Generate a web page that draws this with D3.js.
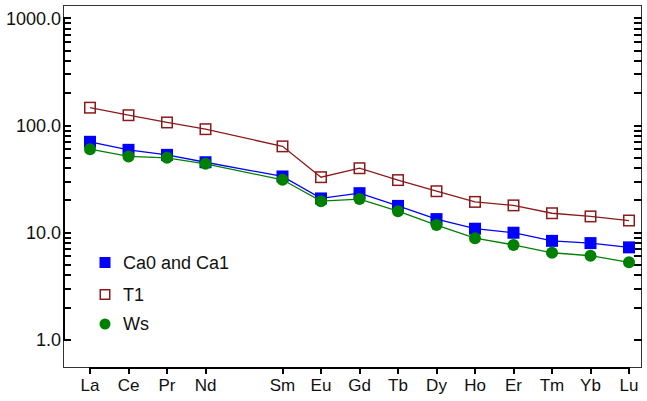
<!DOCTYPE html>
<html><head><meta charset="utf-8">
<script src="https://cdn.jsdelivr.net/npm/d3@7"></script>
<style>html,body{margin:0;padding:0;background:#fff;}svg{display:block;}</style>
</head><body>
<svg id="c" width="647" height="401"></svg>
<script>
const elements = ["La","Ce","Pr","Nd","Sm","Eu","Gd","Tb","Dy","Ho","Er","Tm","Yb","Lu"];
const elementOrder = [0,1,2,3,5,6,7,8,9,10,11,12,13,14];
const t1Values = [147,125,107,92.6,64,33,40,31,24.4,19.4,18,15.2,14.2,13];
const caValues = [70.6,59.4,53.3,45.5,33.5,20.9,23.4,17.8,13.4,10.9,10.0,8.4,8.0,7.3];
const wsValues = [60.3,51.5,50,44,31.2,19.7,20.6,15.9,11.8,8.9,7.7,6.5,6.1,5.3];
const yTickValues = [1,10,100,1000];
const yTickLabels = ["1.0","10.0","100.0","1000.0"];

const svg = d3.select("#c");
const font = "'Liberation Sans', Arial, sans-serif";
const L = 63, R = 641, T = 5, B = 367;
const xs = d3.scaleLinear().domain([0,14]).range([90,629]);
const ys = d3.scaleLog().domain([0.558,1336]).range([B,T]);

// frame (thin)
svg.append("rect").attr("x",L+0.5).attr("y",T+0.5).attr("width",R-L).attr("height",B-T)
  .attr("fill","none").attr("stroke","#333").attr("stroke-width",1);

const tickVals = [];
[1,10,100].forEach(d=>{for(let k=1;k<=9;k++) tickVals.push(k*d);});
tickVals.push(1000);

const ticksG = svg.append("g").attr("fill","#000");
ticksG.selectAll("rect.lt").data(tickVals).enter().append("rect").attr("class","lt")
  .attr("x",L).attr("width",8).attr("y",d=>Math.round(ys(d))-1).attr("height",2);
ticksG.selectAll("rect.rt").data(tickVals).enter().append("rect").attr("class","rt")
  .attr("x",R-7).attr("width",8).attr("y",d=>Math.round(ys(d))-1).attr("height",2);
ticksG.append("rect").attr("x",L).attr("width",2)
  .attr("y",Math.round(ys(1000))-1).attr("height",Math.round(ys(1))-Math.round(ys(1000))+2);
ticksG.selectAll("rect.bt").data(elementOrder).enter().append("rect").attr("class","bt")
  .attr("x",d=>Math.round(xs(d))-1).attr("width",2).attr("y",B).attr("height",7);
ticksG.append("rect").attr("x",Math.round(xs(0))-1).attr("width",Math.round(xs(14))-Math.round(xs(0))+2)
  .attr("y",B).attr("height",2);

svg.selectAll(".ylab").data(yTickValues).enter().append("text")
  .attr("x",61).attr("y",d=>ys(d)).attr("dy","0.36em").attr("text-anchor","end")
  .attr("font-family",font).attr("font-size",18).attr("fill","#111")
  .text((d,i)=>yTickLabels[i]);

svg.selectAll(".xlab").data(elementOrder).enter().append("text")
  .attr("x",d=>xs(d)).attr("y",391).attr("text-anchor","middle")
  .attr("font-family",font).attr("font-size",17).attr("fill","#111")
  .text((d,i)=>elements[i]);

const series = [
  {name:"T1", values:t1Values, color:"#8b1a1a", shape:"open"},
  {name:"Ca0 and Ca1", values:caValues, color:"#0000ff", shape:"square"},
  {name:"Ws", values:wsValues, color:"#008000", shape:"circle"}
];
const line = d3.line().x((d,i)=>xs(elementOrder[i])).y(d=>ys(d));

function marker(g, shape, color, size){
  if(shape==="square"){
    return g.append("rect").attr("x",-size/2).attr("y",-size/2).attr("width",size).attr("height",size).attr("fill",color);
  } else if(shape==="open"){
    const s=size-1.5;
    return g.append("rect").attr("x",-s/2).attr("y",-s/2).attr("width",s).attr("height",s)
      .attr("fill","none").attr("stroke",color).attr("stroke-width",1.5);
  } else {
    return g.append("circle").attr("r",size/2).attr("fill",color);
  }
}

series.forEach(s=>{
  svg.append("path").datum(s.values).attr("d",line).attr("fill","none")
    .attr("stroke",s.color).attr("stroke-width",1.3);
  s.values.forEach((v,i)=>{
    const g = svg.append("g").attr("transform",`translate(${xs(elementOrder[i])},${ys(v)})`);
    marker(g, s.shape, s.color, 12);
  });
});

const legendItems = [
  {name:"Ca0 and Ca1", shape:"square", color:"#0000ff", ly:262.5},
  {name:"T1", shape:"open", color:"#8b1a1a", ly:294.5},
  {name:"Ws", shape:"circle", color:"#008000", ly:324}
];
legendItems.forEach(it=>{
  const g = svg.append("g").attr("transform",`translate(105,${it.ly})`);
  marker(g, it.shape, it.color, 11);
  svg.append("text").attr("x",123).attr("y",it.ly).attr("dy","0.36em")
    .attr("font-family",font).attr("font-size",18).attr("fill","#111").text(it.name);
});
</script>
</body></html>
